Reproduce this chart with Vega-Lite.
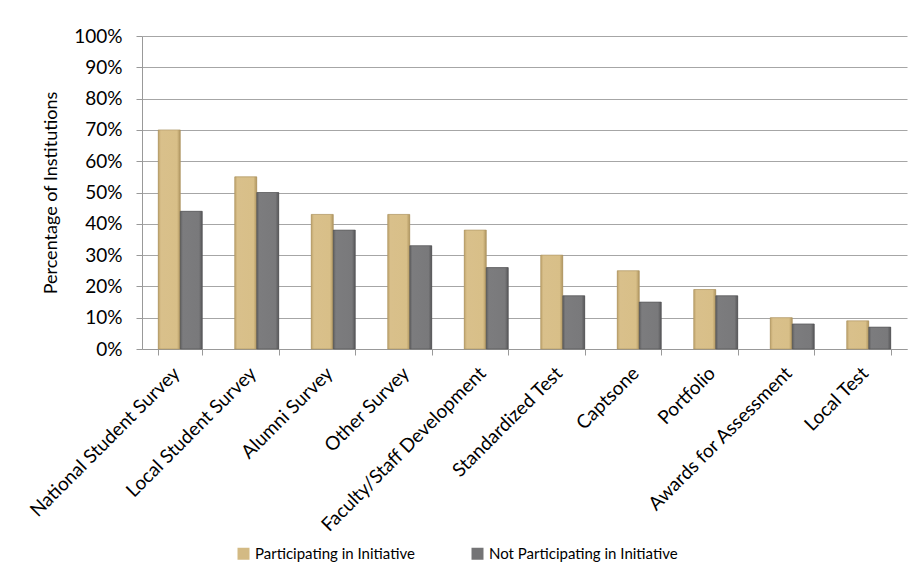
{
  "$schema": "https://vega.github.io/schema/vega-lite/v6.json",
  "autosize": {"type": "none"},
  "width": 765,
  "height": 313,
  "padding": {"left": 142, "top": 36, "right": 7, "bottom": 220},
  "background": "#ffffff",
  "data": {
    "values": [
      {"category": "National Student Survey", "group": "Participating in Initiative", "value": 0.70},
      {"category": "National Student Survey", "group": "Not Participating in Initiative", "value": 0.44},
      {"category": "Local Student Survey", "group": "Participating in Initiative", "value": 0.55},
      {"category": "Local Student Survey", "group": "Not Participating in Initiative", "value": 0.50},
      {"category": "Alumni Survey", "group": "Participating in Initiative", "value": 0.43},
      {"category": "Alumni Survey", "group": "Not Participating in Initiative", "value": 0.38},
      {"category": "Other Survey", "group": "Participating in Initiative", "value": 0.43},
      {"category": "Other Survey", "group": "Not Participating in Initiative", "value": 0.33},
      {"category": "Faculty/Staff Development", "group": "Participating in Initiative", "value": 0.38},
      {"category": "Faculty/Staff Development", "group": "Not Participating in Initiative", "value": 0.26},
      {"category": "Standardized Test", "group": "Participating in Initiative", "value": 0.30},
      {"category": "Standardized Test", "group": "Not Participating in Initiative", "value": 0.17},
      {"category": "Captsone", "group": "Participating in Initiative", "value": 0.25},
      {"category": "Captsone", "group": "Not Participating in Initiative", "value": 0.15},
      {"category": "Portfolio", "group": "Participating in Initiative", "value": 0.19},
      {"category": "Portfolio", "group": "Not Participating in Initiative", "value": 0.17},
      {"category": "Awards for Assessment", "group": "Participating in Initiative", "value": 0.10},
      {"category": "Awards for Assessment", "group": "Not Participating in Initiative", "value": 0.08},
      {"category": "Local Test", "group": "Participating in Initiative", "value": 0.09},
      {"category": "Local Test", "group": "Not Participating in Initiative", "value": 0.07}
    ]
  },
  "encoding": {
    "x": {
      "field": "category",
      "type": "nominal",
      "sort": null,
      "title": null,
      "scale": {"paddingInner": 0.425, "paddingOuter": 0.2125},
      "axis": {
        "labelAngle": -45,
        "labelFontSize": 19,
        "labelPadding": 15,
        "labelOffset": -4,
        "labelBaseline": "middle",
        "tickBand": "extent",
        "tickSize": 6,
        "labelLimit": 300
      }
    },
    "xOffset": {"field": "group", "type": "nominal", "sort": ["Participating in Initiative", "Not Participating in Initiative"]},
    "y": {
      "field": "value",
      "type": "quantitative",
      "title": "Percentage of Institutions",
      "scale": {"domain": [0, 1]},
      "axis": {
        "format": ".0%",
        "values": [0, 0.1, 0.2, 0.3, 0.4, 0.5, 0.6, 0.7, 0.8, 0.9, 1],
        "labelFontSize": 19,
        "labelPadding": 14,
        "tickSize": 6,
        "titleFontSize": 18,
        "titleFontWeight": "normal",
        "titlePadding": 13
      }
    }
  },
  "layer": [
    {
      "mark": {"type": "bar"},
      "encoding": {
        "color": {
          "field": "group",
          "type": "nominal",
          "scale": {"domain": ["Participating in Initiative", "Not Participating in Initiative"], "range": ["#d3ba84", "#747476"]},
          "legend": {
            "title": null,
            "orient": "none",
            "legendX": 94,
            "legendY": 510,
            "direction": "horizontal",
            "columns": 2,
            "columnPadding": 55,
            "symbolType": "square",
            "symbolSize": 144,
            "symbolStrokeWidth": 0,
            "labelFontSize": 15,
            "labelOffset": 4,
            "labelLimit": 400
          }
        }
      }
    },
    {
      "mark": {"type": "bar", "strokeWidth": 0.6},
      "encoding": {
        "fill": {
          "condition": {
            "test": "datum.group === 'Participating in Initiative'",
            "value": {"gradient": "linear", "x1": 0, "x2": 1, "y1": 0, "y2": 0, "stops": [
              {"offset": 0, "color": "#bfa46c"},
              {"offset": 0.12, "color": "#d9c08b"},
              {"offset": 0.85, "color": "#d8bf88"},
              {"offset": 1, "color": "#b09660"}
            ]}
          },
          "value": {"gradient": "linear", "x1": 0, "x2": 1, "y1": 0, "y2": 0, "stops": [
            {"offset": 0, "color": "#5f5f61"},
            {"offset": 0.12, "color": "#7c7c7e"},
            {"offset": 0.85, "color": "#79797b"},
            {"offset": 1, "color": "#575759"}
          ]}
        },
        "stroke": {
          "condition": {"test": "datum.group === 'Participating in Initiative'", "value": "#a89060"},
          "value": "#505052"
        }
      }
    }
  ],
  "config": {
    "font": "Lato",
    "view": {"stroke": null},
    "axis": {
      "labelColor": "#000000",
      "titleColor": "#000000",
      "domainColor": "#999999",
      "tickColor": "#999999",
      "gridColor": "#a6a6a6",
      "gridWidth": 1.2
    },
    "axisX": {"grid": false},
    "legend": {"labelColor": "#000000"}
  }
}
